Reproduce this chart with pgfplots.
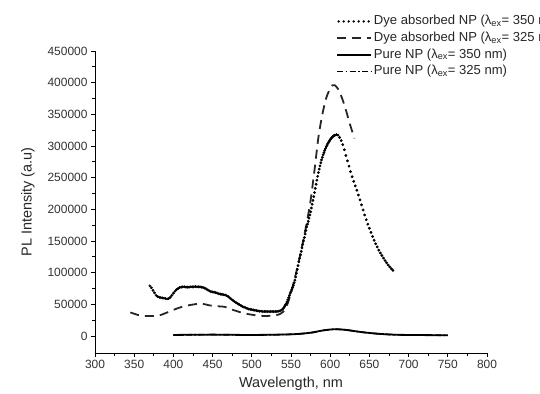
\documentclass[border=0pt]{standalone}
\usepackage{pgfplots}
\pgfplotsset{compat=1.18}
\usepackage{fontspec}
\setmainfont{Liberation Sans}

\begin{document}
\begin{tikzpicture}
\begin{axis}[
  at={(0,0)}, anchor=south west,
  scale only axis, width=392bp, height=302bp,
  xmin=300, xmax=800, ymin=-27000, ymax=450000,
  axis lines=left,
  axis line style={-, line width=0.8bp},
  xtick={300,350,...,800},
  ytick={0,50000,...,450000},
  minor x tick num=1, minor y tick num=1,
  tick align=outside,
  major tick length=4bp, minor tick length=2.5bp,
  tick style={line width=0.8bp, black},
  scaled y ticks=false,
  /pgf/number format/fixed,
  /pgf/number format/precision=0,
  /pgf/number format/1000 sep={},
  /pgf/number format/assume math mode=true,
  tick label style={font=\fontsize{12}{13}\selectfont, text=black!80},
  xlabel={Wavelength, nm},
  ylabel={PL Intensity (a.u)},
  label style={font=\fontsize{14.5}{16}\selectfont, text=black!85},
  xlabel shift=1bp, ylabel shift=6bp,
  legend image code/.code={\draw[#1] (0bp,0bp) -- (34bp,0bp);},
  legend cell align=left,
  legend style={at={(0.615,1.1225)}, anchor=north west, draw=none, fill=none,
    font=\fontsize{13.1}{15}\selectfont, text=black!85,
    inner xsep=0pt, inner ysep=0pt,
    nodes={inner sep=0.5bp, text height=10bp, text depth=3.5bp},
    row sep=2.2bp, column sep=1bp},
  clip=false,
]
% Dye absorbed NP, 350 nm (dense dots)
\addplot[only marks, mark=*, mark size=1.2bp, black,
  legend image code/.code={\draw[line width=2.6bp, line cap=round, dash pattern=on 0pt off 5bp] (1.5bp,0bp) -- (34bp,0bp);}]
coordinates {
(370,79000)(372,76000)(374,72000)(376,68000)(378,64000)(380,62000)(382,61000)(384,60500)(386,60000)(388,59500)
(390,59000)(392,58500)(394,59000)(396,61000)(398,64000)(400,67500)(402,70500)(404,73000)(406,75000)(408,76500)
(410,77000)(412,77500)(414,77500)(416,77000)(418,77000)(420,77000)(422,77500)(424,77500)(426,77500)(428,78000)
(430,77500)(432,77500)(434,77500)(436,77000)(438,76500)(440,75500)(442,74000)(444,72500)(446,71000)(448,70000)
(450,69500)(452,69000)(454,68500)(456,67500)(458,66500)(460,66000)(462,65500)(464,65000)(466,64500)(468,63500)
(470,62000)(472,60000)(474,58000)(476,56000)(478,54000)(480,52500)(482,51000)(484,49500)(486,48000)(488,46500)
(490,45500)(492,44500)(494,43500)(496,42500)(498,42000)(500,41500)(502,41000)(504,40500)(506,40000)(508,39500)
(510,39000)(512,39000)(514,38500)(516,38500)(518,38500)(520,38500)(522,38500)(524,38500)(526,38500)(528,38500)
(530,38500)(532,38500)(534,39000)(536,39500)(538,41000)(540,43000)
(541,45000)(542,47000)(543,49000)(544,51000)(545,54000)(546,57000)(547,60500)(548,64000)(549,67500)(550,70000)
(551,73000)(552,76500)(553,80000)(554,84000)(555,88000)(556,93000)(557,99000)(558,105000)(559,111000)(560,117000)
(561,122500)(562,128000)(563,133500)(564,139000)(565,144500)(566,150000)(567,155500)(568,161000)(569,166500)(570,172000)
(571,176500)(572,181000)(573,186000)(574,191000)(575,196000)(576,202000)(577,208000)(578,214000)(579,220000)(580,226500)
(581,233000)(582,239500)(583,246000)(584,252000)(585,258000)(586,263500)(587,268500)(588,273500)(589,278000)(590,282000)
(591,286000)(592,289500)(593,293000)(594,296000)(595,299000)(596,301500)(597,304000)(598,306000)(599,308000)(600,310000)
(601,311500)(602,313000)(603,314500)(604,315500)(605,316500)(606,317000)
(608,318000)(610,317000)(612,313500)(614,308500)(616,302000)(618,294000)(620,285000)(622,276500)(624,268000)(626,259500)
(628,251500)(630,244000)(632,237000)(634,230000)(636,222500)(638,215000)(640,207000)(642,199000)(644,191000)(646,183500)
(648,176500)(650,170000)(652,163500)(654,157000)(656,151000)(658,145500)(660,140500)(662,135500)(664,131000)(666,127000)
(668,123000)(670,119000)(672,115500)(674,112000)(676,109000)(678,106000)(680,103500)
};
\addlegendentry{Dye absorbed NP (λ\textsubscript{ex}= 350 nm)}

% Dye absorbed NP, 325 nm (dashed)
\addplot[black!85, line width=1.8bp, dash pattern=on 9bp off 6bp, smooth, tension=0.4] coordinates {
(345,37000)(350,35000)(355,33000)(360,32000)(365,31500)(370,31500)(375,31500)(380,32000)(385,33500)(390,36000)
(395,38500)(400,41000)(405,43500)(410,45500)(415,47000)(420,48500)(425,49500)(430,50500)(435,51000)(440,50000)
(445,48500)(450,47500)(455,47000)(460,46500)(465,46000)(470,44000)(475,41500)(480,39500)(485,37500)(490,36000)
(495,34500)(500,33500)(505,32500)(510,32000)(515,31500)(520,31500)(525,32000)(530,32500)(535,34000)(540,38000)
(543,43000)(546,52000)(550,68000)(555,92000)(560,118000)(565,147000)(570,178000)(575,214000)(580,262000)(585,314000)
(590,350000)(595,376000)(600,391000)(603,396000)(606,396000)(610,390000)(615,376000)(620,357000)(625,335000)(631,312000)
};
\addlegendentry{Dye absorbed NP (λ\textsubscript{ex}= 325 nm)}

% Pure NP, 325 nm (dash-dot), drawn beneath
\addplot[black, line width=1.6bp, dash pattern=on 6bp off 2.5bp on 1.5bp off 2.5bp, smooth, forget plot] coordinates {
(400,1500)(450,2000)(500,1500)(550,2500)(575,5000)(590,8500)(605,10500)(620,9500)(640,6000)(660,3500)(680,2000)(700,1500)(750,1000)
};

% Pure NP, 350 nm (solid)
\addplot[black, line width=1.8bp, smooth] coordinates {
(400,1500)(450,2000)(500,1500)(550,2500)(575,5000)(590,8500)(605,10500)(620,9500)(640,6000)(660,3500)(680,2000)(700,1500)(750,1000)
};
\addlegendentry{Pure NP (λ\textsubscript{ex}= 350 nm)}

\addlegendimage{black, line width=1.8bp, dash pattern=on 6bp off 2.5bp on 1.5bp off 2.5bp}
\addlegendentry{Pure NP (λ\textsubscript{ex}= 325 nm)}
\end{axis}
\pgfresetboundingbox
\path (-95bp,-41bp) rectangle (445bp,353bp);
\end{tikzpicture}
\end{document}
